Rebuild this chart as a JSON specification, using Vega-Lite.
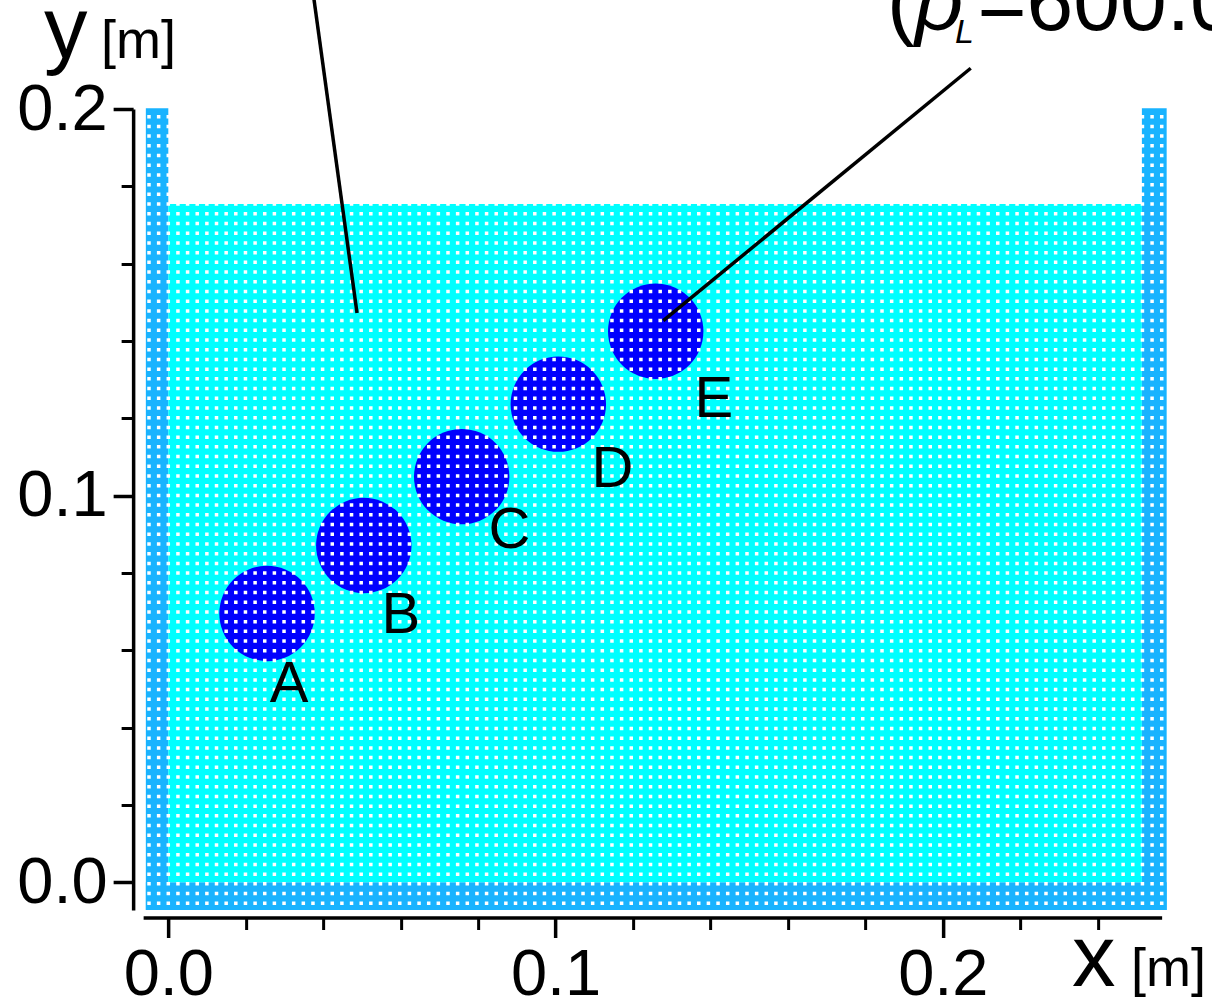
{
  "$schema": "https://vega.github.io/schema/vega-lite/v6.json",
  "width": 1018.5,
  "height": 801,
  "autosize": {"type": "none"},
  "padding": {"left": 143.13, "top": 109, "right": 50.37, "bottom": 90},
  "background": "white",
  "config": {"view": {"stroke": null}, "font": "Liberation Sans"},
  "datasets": {
    "regions": [
      {"part": "wall", "x": -0.0058, "x2": 0, "y": -0.0072, "y2": 0.2002},
      {"part": "wall", "x": 0.2514, "x2": 0.2578, "y": -0.0072, "y2": 0.2002},
      {"part": "wall", "x": -0.0058, "x2": 0.2578, "y": -0.0072, "y2": 0},
      {"part": "fluid", "x": 0, "x2": 0.2514, "y": 0, "y2": 0.1754}
    ],
    "disks": [
      {"disk": "A", "x": 0.02549, "y": 0.06951},
      {"disk": "B", "x": 0.05048, "y": 0.0871},
      {"disk": "C", "x": 0.07576, "y": 0.1049},
      {"disk": "D", "x": 0.10071, "y": 0.12365},
      {"disk": "E", "x": 0.12586, "y": 0.14251}
    ],
    "labels": [
      {"text": "A", "x": 0.03117, "y": 0.04669},
      {"text": "B", "x": 0.06007, "y": 0.06454},
      {"text": "C", "x": 0.08811, "y": 0.08632},
      {"text": "D", "x": 0.11471, "y": 0.10231},
      {"text": "E", "x": 0.14087, "y": 0.12042}
    ],
    "leaders": [
      {"x": 0.03693, "y": 0.23338, "x2": 0.04873, "y2": 0.14724},
      {"x": 0.2072, "y": 0.21054, "x2": 0.12782, "y2": 0.14525}
    ],
    "bigTitles": [
      {"text": "y", "x": -0.0321, "y": 0.21307},
      {"text": "x", "x": 0.23336, "y": -0.02693}
    ],
    "unitTitles": [
      {"text": "[m]", "x": -0.01738, "y": 0.21307},
      {"text": "[m]", "x": 0.2486, "y": -0.02693}
    ],
    "annotRegular": [
      {"text": "(", "x": 0.18559, "y": 0.22045},
      {"text": "=600.0 kg/m³)", "x": 0.20896, "y": 0.22045}
    ],
    "annotItalic": [
      {"text": "ρ", "x": 0.19282, "y": 0.22045}
    ],
    "annotSub": [
      {"text": "L", "x": 0.20315, "y": 0.21701}
    ],
    "lattice": [
      {"y": -0.005458, "x": -0.005436, "x2": 0.25699},
      {"y": -0.002946, "x": -0.005436, "x2": 0.25699},
      {"y": -0.000434, "x": -0.005436, "x2": 0.25699},
      {"y": 0.002078, "x": -0.005436, "x2": 0.25699},
      {"y": 0.00459, "x": -0.005436, "x2": 0.25699},
      {"y": 0.007102, "x": -0.005436, "x2": 0.25699},
      {"y": 0.009614, "x": -0.005436, "x2": 0.25699},
      {"y": 0.012126, "x": -0.005436, "x2": 0.25699},
      {"y": 0.014638, "x": -0.005436, "x2": 0.25699},
      {"y": 0.01715, "x": -0.005436, "x2": 0.25699},
      {"y": 0.019662, "x": -0.005436, "x2": 0.25699},
      {"y": 0.022174, "x": -0.005436, "x2": 0.25699},
      {"y": 0.024686, "x": -0.005436, "x2": 0.25699},
      {"y": 0.027198, "x": -0.005436, "x2": 0.25699},
      {"y": 0.02971, "x": -0.005436, "x2": 0.25699},
      {"y": 0.032222, "x": -0.005436, "x2": 0.25699},
      {"y": 0.034734, "x": -0.005436, "x2": 0.25699},
      {"y": 0.037246, "x": -0.005436, "x2": 0.25699},
      {"y": 0.039758, "x": -0.005436, "x2": 0.25699},
      {"y": 0.04227, "x": -0.005436, "x2": 0.25699},
      {"y": 0.044782, "x": -0.005436, "x2": 0.25699},
      {"y": 0.047294, "x": -0.005436, "x2": 0.25699},
      {"y": 0.049806, "x": -0.005436, "x2": 0.25699},
      {"y": 0.052318, "x": -0.005436, "x2": 0.25699},
      {"y": 0.05483, "x": -0.005436, "x2": 0.25699},
      {"y": 0.057342, "x": -0.005436, "x2": 0.25699},
      {"y": 0.059854, "x": -0.005436, "x2": 0.25699},
      {"y": 0.062366, "x": -0.005436, "x2": 0.25699},
      {"y": 0.064878, "x": -0.005436, "x2": 0.25699},
      {"y": 0.06739, "x": -0.005436, "x2": 0.25699},
      {"y": 0.069902, "x": -0.005436, "x2": 0.25699},
      {"y": 0.072414, "x": -0.005436, "x2": 0.25699},
      {"y": 0.074926, "x": -0.005436, "x2": 0.25699},
      {"y": 0.077438, "x": -0.005436, "x2": 0.25699},
      {"y": 0.07995, "x": -0.005436, "x2": 0.25699},
      {"y": 0.082462, "x": -0.005436, "x2": 0.25699},
      {"y": 0.084974, "x": -0.005436, "x2": 0.25699},
      {"y": 0.087486, "x": -0.005436, "x2": 0.25699},
      {"y": 0.089998, "x": -0.005436, "x2": 0.25699},
      {"y": 0.09251, "x": -0.005436, "x2": 0.25699},
      {"y": 0.095022, "x": -0.005436, "x2": 0.25699},
      {"y": 0.097534, "x": -0.005436, "x2": 0.25699},
      {"y": 0.100046, "x": -0.005436, "x2": 0.25699},
      {"y": 0.102558, "x": -0.005436, "x2": 0.25699},
      {"y": 0.10507, "x": -0.005436, "x2": 0.25699},
      {"y": 0.107582, "x": -0.005436, "x2": 0.25699},
      {"y": 0.110094, "x": -0.005436, "x2": 0.25699},
      {"y": 0.112606, "x": -0.005436, "x2": 0.25699},
      {"y": 0.115118, "x": -0.005436, "x2": 0.25699},
      {"y": 0.11763, "x": -0.005436, "x2": 0.25699},
      {"y": 0.120142, "x": -0.005436, "x2": 0.25699},
      {"y": 0.122654, "x": -0.005436, "x2": 0.25699},
      {"y": 0.125166, "x": -0.005436, "x2": 0.25699},
      {"y": 0.127678, "x": -0.005436, "x2": 0.25699},
      {"y": 0.13019, "x": -0.005436, "x2": 0.25699},
      {"y": 0.132702, "x": -0.005436, "x2": 0.25699},
      {"y": 0.135214, "x": -0.005436, "x2": 0.25699},
      {"y": 0.137726, "x": -0.005436, "x2": 0.25699},
      {"y": 0.140238, "x": -0.005436, "x2": 0.25699},
      {"y": 0.14275, "x": -0.005436, "x2": 0.25699},
      {"y": 0.145262, "x": -0.005436, "x2": 0.25699},
      {"y": 0.147774, "x": -0.005436, "x2": 0.25699},
      {"y": 0.150286, "x": -0.005436, "x2": 0.25699},
      {"y": 0.152798, "x": -0.005436, "x2": 0.25699},
      {"y": 0.15531, "x": -0.005436, "x2": 0.25699},
      {"y": 0.157822, "x": -0.005436, "x2": 0.25699},
      {"y": 0.160334, "x": -0.005436, "x2": 0.25699},
      {"y": 0.162846, "x": -0.005436, "x2": 0.25699},
      {"y": 0.165358, "x": -0.005436, "x2": 0.25699},
      {"y": 0.16787, "x": -0.005436, "x2": 0.25699},
      {"y": 0.170382, "x": -0.005436, "x2": 0.25699},
      {"y": 0.172894, "x": -0.005436, "x2": 0.25699},
      {"y": 0.175406, "x": -0.005436, "x2": 0.25699},
      {"y": 0.177918, "x": -0.005436, "x2": 0.25699},
      {"y": 0.18043, "x": -0.005436, "x2": 0.25699},
      {"y": 0.182942, "x": -0.005436, "x2": 0.25699},
      {"y": 0.185454, "x": -0.005436, "x2": 0.25699},
      {"y": 0.187966, "x": -0.005436, "x2": 0.25699},
      {"y": 0.190478, "x": -0.005436, "x2": 0.25699},
      {"y": 0.19299, "x": -0.005436, "x2": 0.25699},
      {"y": 0.195502, "x": -0.005436, "x2": 0.25699},
      {"y": 0.198014, "x": -0.005436, "x2": 0.25699}
    ]
  },
  "encoding": {
    "x": {
      "field": "x",
      "type": "quantitative",
      "scale": {"domain": [-0.0065, 0.2565], "nice": false, "zero": false},
      "axis": {
        "title": null,
        "orient": "bottom",
        "offset": 7.5,
        "grid": false,
        "values": [0, 0.02, 0.04, 0.06, 0.08, 0.1, 0.12, 0.14, 0.16, 0.18, 0.2, 0.22, 0.24],
        "domainColor": "black",
        "domainWidth": 3.5,
        "tickColor": "black",
        "tickWidth": {"condition": {"test": "abs(datum.value*10 - round(datum.value*10)) < 1e-6", "value": 3.5}, "value": 3},
        "tickSize": {"condition": {"test": "abs(datum.value*10 - round(datum.value*10)) < 1e-6", "value": 20}, "value": 12},
        "labelExpr": "abs(datum.value*10 - round(datum.value*10)) < 1e-6 ? format(datum.value, '.1f') : ''",
        "labelFont": "Liberation Sans",
        "labelFontSize": 65,
        "labelColor": "black",
        "labelPadding": 6,
        "labelFlush": false,
        "labelOverlap": false,
        "labelBound": false
      }
    },
    "y": {
      "field": "y",
      "type": "quantitative",
      "scale": {"domain": [-0.0072, 0.2], "nice": false, "zero": false},
      "axis": {
        "title": null,
        "orient": "left",
        "offset": 10,
        "grid": false,
        "values": [0, 0.02, 0.04, 0.06, 0.08, 0.1, 0.12, 0.14, 0.16, 0.18, 0.2],
        "domainColor": "black",
        "domainWidth": 3.5,
        "tickColor": "black",
        "tickWidth": {"condition": {"test": "abs(datum.value*10 - round(datum.value*10)) < 1e-6", "value": 3.5}, "value": 3},
        "tickSize": {"condition": {"test": "abs(datum.value*10 - round(datum.value*10)) < 1e-6", "value": 20}, "value": 12},
        "labelExpr": "abs(datum.value*10 - round(datum.value*10)) < 1e-6 ? format(datum.value, '.1f') : ''",
        "labelFont": "Liberation Sans",
        "labelFontSize": 65,
        "labelColor": "black",
        "labelPadding": 6,
        "labelFlush": false,
        "labelOverlap": false,
        "labelBound": false
      }
    }
  },
  "layer": [
    {
      "data": {"name": "regions"},
      "mark": {"type": "rect", "strokeWidth": 0},
      "encoding": {
        "x2": {"field": "x2"},
        "y2": {"field": "y2"},
        "color": {
          "field": "part",
          "type": "nominal",
          "scale": {"domain": ["wall", "fluid"], "range": ["#19b3ff", "#00ffff"]},
          "legend": null
        }
      }
    },
    {
      "data": {"name": "disks"},
      "mark": {"type": "point", "shape": "circle", "filled": true, "size": 9100, "color": "#0000ff", "opacity": 1, "strokeWidth": 0}
    },
    {
      "data": {"name": "lattice"},
      "mark": {"type": "rule", "color": "white", "strokeWidth": 3.5, "strokeDash": [3.5, 6.145]},
      "encoding": {"x2": {"field": "x2"}}
    },
    {
      "data": {"name": "leaders"},
      "mark": {"type": "rule", "color": "black", "strokeWidth": 3.5},
      "encoding": {"x2": {"field": "x2"}, "y2": {"field": "y2"}}
    },
    {
      "data": {"name": "labels"},
      "mark": {"type": "text", "fontSize": 58, "font": "Liberation Sans", "align": "center", "baseline": "alphabetic", "color": "black"},
      "encoding": {"text": {"field": "text"}}
    },
    {
      "data": {"name": "bigTitles"},
      "mark": {"type": "text", "fontSize": 87, "font": "Liberation Sans", "align": "left", "baseline": "alphabetic", "color": "black"},
      "encoding": {"text": {"field": "text"}}
    },
    {
      "data": {"name": "unitTitles"},
      "mark": {"type": "text", "fontSize": 54, "font": "Liberation Sans", "align": "left", "baseline": "alphabetic", "color": "black"},
      "encoding": {"text": {"field": "text"}}
    },
    {
      "data": {"name": "annotRegular"},
      "mark": {"type": "text", "fontSize": 84, "font": "Liberation Sans", "align": "left", "baseline": "alphabetic", "color": "black"},
      "encoding": {"text": {"field": "text"}}
    },
    {
      "data": {"name": "annotItalic"},
      "mark": {"type": "text", "fontSize": 84, "font": "Liberation Sans", "fontStyle": "italic", "align": "left", "baseline": "alphabetic", "color": "black"},
      "encoding": {"text": {"field": "text"}}
    },
    {
      "data": {"name": "annotSub"},
      "mark": {"type": "text", "fontSize": 34, "font": "Liberation Sans", "fontStyle": "italic", "align": "left", "baseline": "alphabetic", "color": "black"},
      "encoding": {"text": {"field": "text"}}
    }
  ]
}
